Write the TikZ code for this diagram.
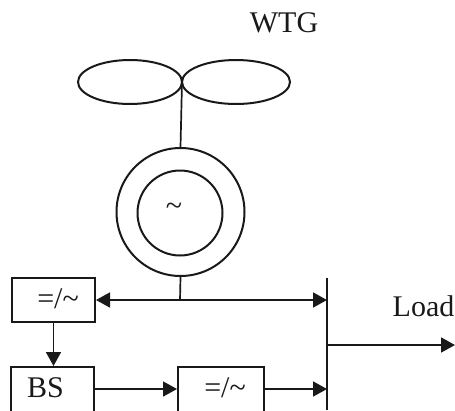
\documentclass[tikz,border=0pt]{standalone}
\usepackage{fontspec}
\setmainfont{Liberation Serif}
\usetikzlibrary{arrows.meta,shapes.geometric}
\tikzset{
  ink/.style={draw=black!90,line width=2pt},
  blade/.style={ink,ellipse,minimum height=44pt,inner sep=0pt},
  ring/.style={ink,circle,inner sep=0pt},
  conv/.style={ink,rectangle,inner sep=0pt,minimum width=83pt,minimum height=44pt},
  lbl/.style={font=\fontsize{30}{30}\selectfont,text=black!90,inner sep=0pt},
  conn/.style={draw=black!90,line width=1.7pt},
  tip/.style={conn,-{Triangle[length=14pt,width=15pt]}},
  tiptwo/.style={conn,{Triangle[length=14pt,width=15pt]}-{Triangle[length=14pt,width=15pt]}}
}
\begin{document}
\begin{tikzpicture}[x=1pt,y=-1pt]
\useasboundingbox (0,0) rectangle (455,410);
\clip (0,0) rectangle (455,410);
\node[lbl] (wtg) at (284,23) {WTG};
\node[blade,minimum width=104pt] (bl) at (130,82) {};
\node[blade,minimum width=108pt] (br) at (236,82) {};
\coordinate (hub) at (182,82);
\node[ring,minimum size=128pt] (gen) at (180.5,212) {};
\node[ring,minimum size=85pt] (rot) at (180,213) {};
\node[lbl] (til) at (174,209) {\char`\~};
\node[conv] (c1) at (53.5,300) {};
\node[lbl] (c1t) at (58,299) {=/\char`\~};
\node[conv,minimum height=46pt] (bs) at (52.5,390) {};
\node[lbl] (bst) at (45.5,388) {BS};
\node[conv,minimum height=46pt,minimum width=86pt] (c2) at (221,390) {};
\node[lbl] (c2t) at (225,388) {=/\char`\~};
\coordinate (bustop) at (327,278);
\coordinate (busbot) at (327,410);
\coordinate (busa) at (327,300);
\coordinate (busb) at (327,345);
\coordinate (busc) at (327,389);
\coordinate (junc) at (180,300);
\coordinate (loadend) at (455,345);
\node[lbl] (load) at (423.5,306) {Load};
\draw[ink] (bustop) -- (busbot);
\draw[conn] (hub) -- (gen.north);
\draw[conn] (gen.south) -- (junc);
\draw[tiptwo] (c1.east) -- (busa);
\draw[tip] (c1.south) -- (c1.south |- bs.north);
\draw[tip] (bs.east |- busc) -- (c2.west |- busc);
\draw[tip] (c2.east |- busc) -- (busc);
\draw[tip] (busb) -- (loadend);
\end{tikzpicture}
\end{document}
